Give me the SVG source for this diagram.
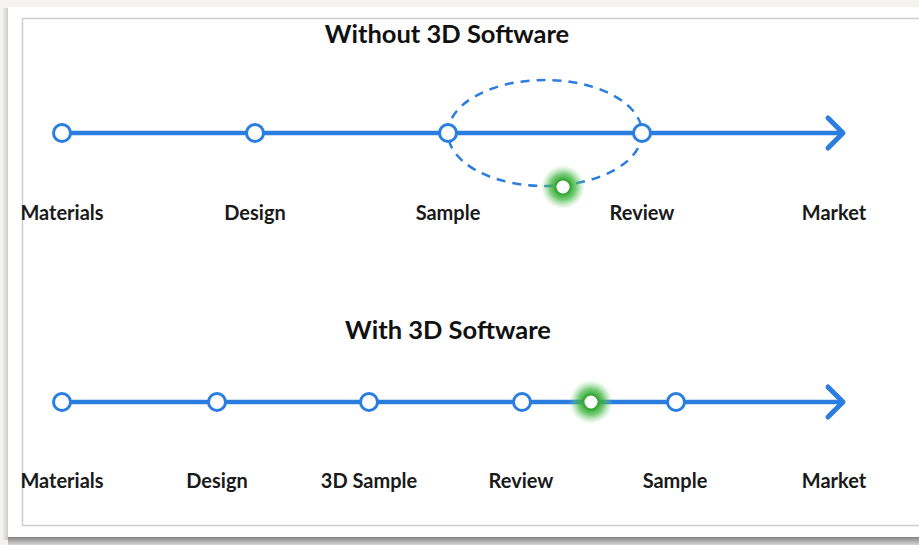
<svg xmlns="http://www.w3.org/2000/svg" width="919" height="545" viewBox="0 0 919 545">
<defs>
<radialGradient id="glow">
<stop offset="0.3" stop-color="#2aa52a" stop-opacity="1"/>
<stop offset="0.6" stop-color="#45b845" stop-opacity="0.7"/>
<stop offset="1" stop-color="#8fd68f" stop-opacity="0"/>
</radialGradient>
<linearGradient id="shadowB" x1="0" y1="0" x2="0" y2="1">
<stop offset="0" stop-color="#777"/>
<stop offset="1" stop-color="#d8d8d8"/>
</linearGradient>
<linearGradient id="shadowL" x1="1" y1="0" x2="0" y2="0">
<stop offset="0" stop-color="#bdbdbd"/>
<stop offset="1" stop-color="#f4f3f0"/>
</linearGradient>
</defs>
<style>
.line{stroke:#2b7de0;stroke-width:4.5;fill:none}
.arrow{stroke:#2b7de0;stroke-width:5;fill:none;stroke-linecap:round;stroke-linejoin:round}
.node{fill:#fff;stroke:#2b7de0;stroke-width:3}
.gnode{fill:#fff;stroke:#3aa83a;stroke-width:2}
.lbl{font-family:Lato,"Liberation Sans",sans-serif;font-weight:bold;font-size:20px;fill:#1a1a1a;text-anchor:middle}
.ttl{font-family:Lato,"Liberation Sans",sans-serif;font-weight:bold;font-size:25.5px;fill:#111;text-anchor:middle}
</style>
<rect x="0" y="0" width="919" height="545" fill="#f4f3f0"/>
<rect x="2" y="8" width="8" height="532" fill="url(#shadowL)"/>
<rect x="8" y="536" width="911" height="9" fill="url(#shadowB)"/>
<rect x="8" y="7" width="911" height="530" fill="#fff"/>
<rect x="22.5" y="18.5" width="905" height="507" fill="none" stroke="#cfcfcf" stroke-width="1.5"/>
<g id="title-top"><text class="ttl" x="447" y="43">Without 3D Software</text></g>
<g id="title-bottom"><text class="ttl" x="448" y="339">With 3D Software</text></g>
<g id="connectors">
<line class="line" x1="62" y1="133" x2="840" y2="133"/>
<polyline class="arrow" points="828,118 843,133 828,148"/>
<ellipse cx="545" cy="133" rx="97" ry="53" fill="none" stroke="#2b7de0" stroke-width="2.5" stroke-dasharray="9,7"/>
<line class="line" x1="62" y1="402" x2="840" y2="402"/>
<polyline class="arrow" points="828,387 843,402 828,417"/>
</g>
<g id="top-materials"><circle class="node" cx="62" cy="133" r="8.5"/><text class="lbl" x="62" y="220">Materials</text></g>
<g id="top-design"><circle class="node" cx="255" cy="133" r="8.5"/><text class="lbl" x="255" y="220">Design</text></g>
<g id="top-sample"><circle class="node" cx="448" cy="133" r="8.5"/><text class="lbl" x="448" y="220">Sample</text></g>
<g id="top-review"><circle class="node" cx="642" cy="133" r="8.5"/><text class="lbl" x="642" y="220">Review</text></g>
<g id="top-market"><text class="lbl" x="834" y="220">Market</text></g>
<g id="top-green"><circle cx="563" cy="187" r="22" fill="url(#glow)"/><circle class="gnode" cx="563" cy="187" r="7.5"/></g>
<g id="bot-materials"><circle class="node" cx="62" cy="402" r="8.5"/><text class="lbl" x="62" y="488">Materials</text></g>
<g id="bot-design"><circle class="node" cx="217" cy="402" r="8.5"/><text class="lbl" x="217" y="488">Design</text></g>
<g id="bot-3dsample"><circle class="node" cx="369" cy="402" r="8.5"/><text class="lbl" x="369" y="488">3D Sample</text></g>
<g id="bot-review"><circle class="node" cx="522" cy="402" r="8.5"/><text class="lbl" x="521" y="488">Review</text></g>
<g id="bot-green"><circle cx="591" cy="402" r="22" fill="url(#glow)"/><circle class="gnode" cx="591" cy="402" r="7.5"/></g>
<g id="bot-sample"><circle class="node" cx="676" cy="402" r="8.5"/><text class="lbl" x="675" y="488">Sample</text></g>
<g id="bot-market"><text class="lbl" x="834" y="488">Market</text></g>
</svg>
